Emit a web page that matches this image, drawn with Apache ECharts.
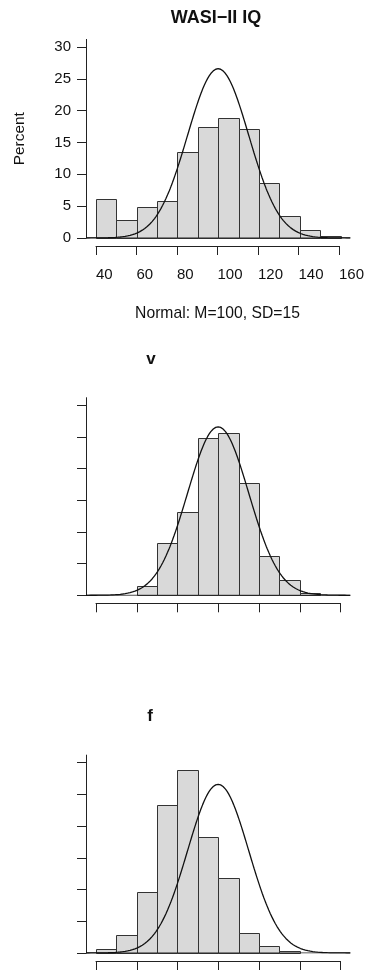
<!DOCTYPE html>
<html><head><meta charset="utf-8">
<script src="https://cdn.jsdelivr.net/npm/echarts@6/dist/echarts.min.js"></script>
<style>html,body{margin:0;padding:0;background:#fff}#c{width:367px;height:971px}</style>
</head><body><div id="c"></div>
<script>
// ---- data ----
const binStarts = [40, 50, 60, 70, 80, 90, 100, 110, 120, 130, 140, 150];
const binWidth = 10;
const wasiPct = [6.2, 2.8, 4.9, 5.8, 13.5, 17.4, 18.9, 17.2, 8.6, 3.4, 1.2, 0.3];
const vPct    = [null, null, 1.5, 8.2, 13.2, 24.8, 25.7, 17.8, 6.2, 2.4, 0.4, null];
const fPct    = [0.7, 2.9, 9.6, 23.3, 28.9, 18.3, 11.9, 3.1, 1.05, 0.3, null, null];
const xTickValues = [40, 60, 80, 100, 120, 140, 160];
const yTickValues = [0, 5, 10, 15, 20, 25, 30];
const panelTitles = ['WASI\u2212II IQ', 'v', 'f'];
const normalMean = 100;
const normalSD = 15;
const normalLabel = 'Normal: M=100, SD=15';
const yLabel = 'Percent';

// ---- axis ranges ----
const xMin = 40, xMax = 160, yMax = 30;
const xPad = 0.04 * (xMax - xMin);
const yTop = yMax + 0.04 * yMax;

const FONT = '"Liberation Sans", Arial, Helvetica, sans-serif';
const INK = '#222';

// theoretical normal curve (percent per bin) from the stated parameters
function normalPct(x) {
  const z = (x - normalMean) / normalSD;
  return 100 * binWidth * Math.exp(-0.5 * z * z) / (normalSD * Math.sqrt(2 * Math.PI));
}
const curveX = [];
for (let x = xMin - xPad; x <= xMax + xPad + 1e-9; x += 0.4) curveX.push(+x.toFixed(2));
const curveData = curveX.map(x => [x, normalPct(x)]);

const panels = [wasiPct, vPct, fPct];
const vBands = [
  {top: 39.4, bottom: 733},
  {top: 397.7, bottom: 375.7},
  {top: 755.1, bottom: 18}
];

const grids = [], xAxes = [], yAxes = [], series = [];
panels.forEach((vals, i) => {
  const g = 2 * i;          // data grid (full plot region)
  const t = 2 * i + 1;      // tick grid (x axis 40..160)
  grids.push({left: 86, right: 16.7, top: vBands[i].top, bottom: vBands[i].bottom});
  grids.push({left: 96, right: 26.5, top: vBands[i].top, bottom: vBands[i].bottom});

  xAxes.push({gridIndex: g, type: 'value', min: xMin - xPad, max: xMax + xPad, show: false});
  xAxes.push({
    gridIndex: t, type: 'value', min: xMin, max: xMax, interval: 20, offset: 8,
    axisLine: {show: true, onZero: false, lineStyle: {color: INK, width: 1}},
    axisTick: {show: true, length: 9, customValues: xTickValues, lineStyle: {color: INK, width: 1}},
    axisLabel: {show: i === 0, customValues: xTickValues, align: 'left', margin: 21, fontSize: 15, color: '#111', fontFamily: FONT},
    splitLine: {show: false},
    name: i === 0 ? normalLabel : '', nameLocation: 'middle', nameGap: 60,
    nameTextStyle: {fontSize: 15.7, color: '#111', fontFamily: FONT}
  });
  yAxes.push({
    gridIndex: g, type: 'value', min: 0, max: yTop,
    axisLine: {show: true, onZero: false, lineStyle: {color: INK, width: 1}},
    axisTick: {show: true, length: 9, customValues: yTickValues, lineStyle: {color: INK, width: 1}},
    axisLabel: {show: i === 0, customValues: yTickValues, margin: 15, fontSize: 15, color: '#111', fontFamily: FONT},
    splitLine: {show: false},
    name: i === 0 ? yLabel : '', nameLocation: 'middle', nameGap: 59, nameRotate: 90,
    nameTextStyle: {fontSize: 15.4, color: '#111', fontFamily: FONT}
  });
  yAxes.push({gridIndex: t, type: 'value', min: 0, max: yTop, show: false});

  const barData = [];
  binStarts.forEach((s, k) => { if (vals[k] != null) barData.push([s, s + binWidth, vals[k]]); });
  series.push({
    type: 'custom', xAxisIndex: g, yAxisIndex: g, data: barData, silent: true, clip: false,
    encode: {x: [0, 1], y: 2},
    renderItem: function (params, api) {
      const p0 = api.coord([api.value(0), api.value(2)]);
      const p1 = api.coord([api.value(1), 0]);
      const x0 = Math.round(p0[0]) + 0.5, x1 = Math.round(p1[0]) + 0.5;
      const y0 = Math.round(p0[1]) + 0.5, y1 = Math.round(p1[1]) + 0.5;
      return {type: 'rect', shape: {x: x0, y: y0, width: x1 - x0, height: y1 - y0},
        style: {fill: '#d9d9d9', stroke: '#333', lineWidth: 1}};
    }
  });
  series.push({
    type: 'line', xAxisIndex: g, yAxisIndex: g, data: [[xMin - xPad, 0], [xMax + xPad, 0]],
    showSymbol: false, silent: true,
    lineStyle: {color: INK, width: 1}
  });
  series.push({
    type: 'line', xAxisIndex: g, yAxisIndex: g, data: curveData,
    showSymbol: false, silent: true, smooth: false,
    lineStyle: {color: '#111', width: 1.3}
  });
});

const chart = echarts.init(document.getElementById('c'), null, {renderer: 'canvas'});
chart.setOption({
  animation: false,
  backgroundColor: '#fff',
  title: [
    {text: panelTitles[0], left: 216, top: 9.5, textAlign: 'center', padding: 0,
     textStyle: {fontSize: 18, fontWeight: 'bold', color: '#111', fontFamily: FONT}},
    {text: panelTitles[1], left: 151, top: 351, textAlign: 'center', padding: 0,
     textStyle: {fontSize: 17, fontWeight: 'bold', color: '#111', fontFamily: FONT}},
    {text: panelTitles[2], left: 150, top: 708, textAlign: 'center', padding: 0,
     textStyle: {fontSize: 17, fontWeight: 'bold', color: '#111', fontFamily: FONT}}
  ],
  grid: grids,
  xAxis: xAxes,
  yAxis: yAxes,
  series: series
});
</script>
</body></html>
